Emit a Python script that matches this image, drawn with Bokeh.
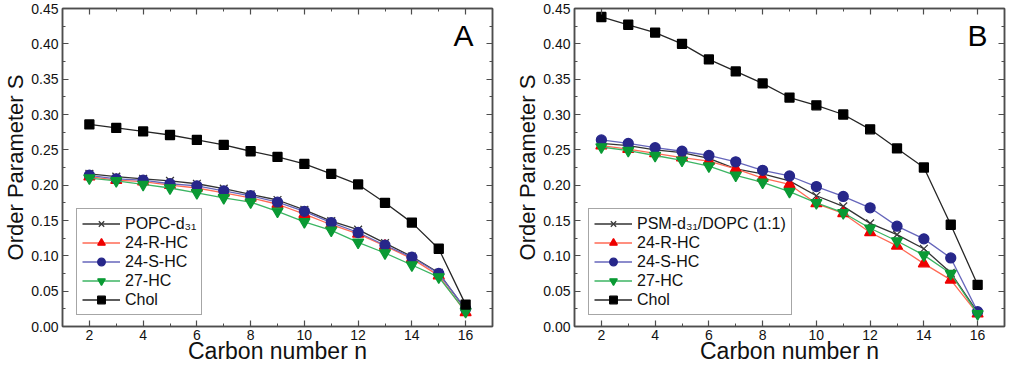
from bokeh.plotting import figure
from bokeh.layouts import row
from bokeh.models import (FixedTicker, LinearAxis, Label, Range1d, PrintfTickFormatter,
                          CustomJSTickFormatter)
from bokeh.embed import file_html
from bokeh.resources import INLINE

# ---------------- data ----------------
carbon = [2, 3, 4, 5, 6, 7, 8, 9, 10, 11, 12, 13, 14, 15, 16]

x_ticks = [2, 4, 6, 8, 10, 12, 14, 16]
x_minor = [1, 3, 5, 7, 9, 11, 13, 15, 17]
y_ticks = [0.0, 0.05, 0.10, 0.15, 0.20, 0.25, 0.30, 0.35, 0.40, 0.45]
y_minor = [0.025, 0.075, 0.125, 0.175, 0.225, 0.275, 0.325, 0.375, 0.425]

# Panel A
popc_A = [0.216, 0.212, 0.209, 0.206, 0.202, 0.195, 0.187, 0.179, 0.165, 0.149, 0.137, 0.118, 0.099, 0.076, 0.024]
r_A    = [0.212, 0.207, 0.205, 0.200, 0.196, 0.189, 0.182, 0.173, 0.159, 0.144, 0.131, 0.114, 0.096, 0.072, 0.020]
s_A    = [0.214, 0.209, 0.207, 0.202, 0.199, 0.192, 0.185, 0.176, 0.163, 0.147, 0.133, 0.115, 0.098, 0.075, 0.025]
g_A    = [0.210, 0.206, 0.201, 0.196, 0.189, 0.182, 0.176, 0.163, 0.148, 0.136, 0.119, 0.104, 0.087, 0.070, 0.021]
chol_A = [0.286, 0.281, 0.276, 0.271, 0.264, 0.257, 0.248, 0.240, 0.230, 0.216, 0.201, 0.175, 0.147, 0.110, 0.031]

# Panel B
psm_B  = [0.259, 0.256, 0.250, 0.246, 0.238, 0.223, 0.216, 0.206, 0.185, 0.170, 0.146, 0.130, 0.110, 0.076, 0.020]
r_B    = [0.256, 0.251, 0.245, 0.239, 0.234, 0.223, 0.210, 0.201, 0.174, 0.160, 0.133, 0.114, 0.089, 0.066, 0.018]
s_B    = [0.264, 0.259, 0.253, 0.248, 0.242, 0.233, 0.221, 0.213, 0.198, 0.184, 0.168, 0.142, 0.124, 0.097, 0.021]
g_B    = [0.254, 0.249, 0.242, 0.235, 0.227, 0.214, 0.204, 0.191, 0.175, 0.161, 0.139, 0.121, 0.101, 0.075, 0.018]
chol_B = [0.438, 0.427, 0.416, 0.400, 0.378, 0.361, 0.344, 0.324, 0.313, 0.300, 0.279, 0.252, 0.225, 0.144, 0.059]

FONT = "Liberation Sans"
AX = "#4d4d4d"


def make_panel(width, border_left, border_right, series, first_label, letter, letter_dx):
    p = figure(width=width, height=366, output_backend="svg", toolbar_location=None,
               x_range=Range1d(1, 17), y_range=Range1d(0, 0.45),
               min_border_left=border_left, min_border_right=border_right,
               min_border_top=8, min_border_bottom=38)
    p.grid.visible = False
    p.outline_line_color = AX
    p.outline_line_width = 1.5
    p.background_fill_color = "white"
    p.border_fill_color = "white"

    bottom = p.below[0]
    left = p.left[0]

    xt = FixedTicker(ticks=x_ticks, minor_ticks=x_minor)
    yt = FixedTicker(ticks=y_ticks, minor_ticks=y_minor)
    bottom.ticker = xt
    left.ticker = yt
    left.formatter = PrintfTickFormatter(format="%.2f")

    blank = CustomJSTickFormatter(code="return ''")
    top = LinearAxis(ticker=xt, formatter=blank)
    right = LinearAxis(ticker=yt, formatter=blank)
    p.add_layout(top, "above")
    p.add_layout(right, "right")
    for ax in [top, right]:
        ax.major_label_text_font_size = "8px"
        ax.major_label_standoff = 0

    for ax in [bottom, left, top, right]:
        ax.axis_line_color = AX
        ax.axis_line_width = 1.5
        ax.major_tick_line_color = AX
        ax.minor_tick_line_color = AX
        ax.major_tick_line_width = 1.2
        ax.minor_tick_line_width = 1
        ax.major_tick_in = 6
        ax.major_tick_out = 0
        ax.minor_tick_in = 3
        ax.minor_tick_out = 0
        ax.major_label_text_font = FONT
        ax.major_label_text_color = "#111111"
    bottom.major_label_text_font_size = "14px"
    left.major_label_text_font_size = "14px"
    bottom.major_label_standoff = 3
    left.major_label_standoff = 4

    left.axis_label = "Order Parameter S"
    left.axis_label_text_font = FONT
    left.axis_label_text_font_size = "22px"
    left.axis_label_text_font_style = "normal"
    left.axis_label_text_color = "#111111"
    left.axis_label_standoff = 0

    bottom.axis_label = "Carbon number n"
    bottom.axis_label_text_font = FONT
    bottom.axis_label_text_font_size = "23px"
    bottom.axis_label_text_font_style = "normal"
    bottom.axis_label_text_color = "#111111"
    bottom.axis_label_standoff = -5

    first, r, s, g, chol = series
    styles = [
        (first, first_label, "#333333", "x", "#3a3a3a", "#3a3a3a", 11),
        (r, "24-R-HC", "#ff6a55", "triangle", "#ee0000", "#ee0000", 11),
        (s, "24-S-HC", "#6666bb", "circle", "#27278a", "#27278a", 10),
        (g, "27-HC", "#3cb563", "inverted_triangle", "#0a9a34", "#0a9a34", 11),
        (chol, "Chol", "#262626", "square", "#000000", "#000000", 9),
    ]
    for ys, lab, lc, mk, mf, ml, sz in styles:
        p.line(carbon, ys, line_color=lc, line_width=1.3, legend_label=lab)
        p.scatter(carbon, ys, marker=mk, size=sz, fill_color=mf, line_color=ml,
                  line_width=1.3, legend_label=lab)

    lg = p.legend[0]
    lg.location = (14, 11)
    lg.margin = 0
    lg.padding = 5
    lg.spacing = 0
    lg.label_text_font = FONT
    lg.label_text_font_size = "16px"
    lg.label_text_color = "#111111"
    lg.label_height = 19
    lg.glyph_height = 19
    lg.glyph_width = 38
    lg.label_standoff = 5
    lg.border_line_color = AX
    lg.border_line_width = 1.2
    lg.background_fill_alpha = 1.0

    # panel letter
    p.add_layout(Label(x=17, y=0.45, x_offset=letter_dx, y_offset=-27, text=letter,
                       text_font=FONT, text_font_size="30px", text_align="center",
                       text_baseline="middle", text_color="#000000"))
    return p


pA = make_panel(500, 55, 8, (popc_A, r_A, s_A, g_A, chol_A), "POPC-d\u2083\u2081", "A", -29)
pB = make_panel(508, 74, 4, (psm_B, r_B, s_B, g_B, chol_B), "PSM-d\u2083\u2081/DOPC (1:1)", "B", -27)

layout = row(pA, pB)
open("out.html", "w").write(file_html(layout, INLINE))
